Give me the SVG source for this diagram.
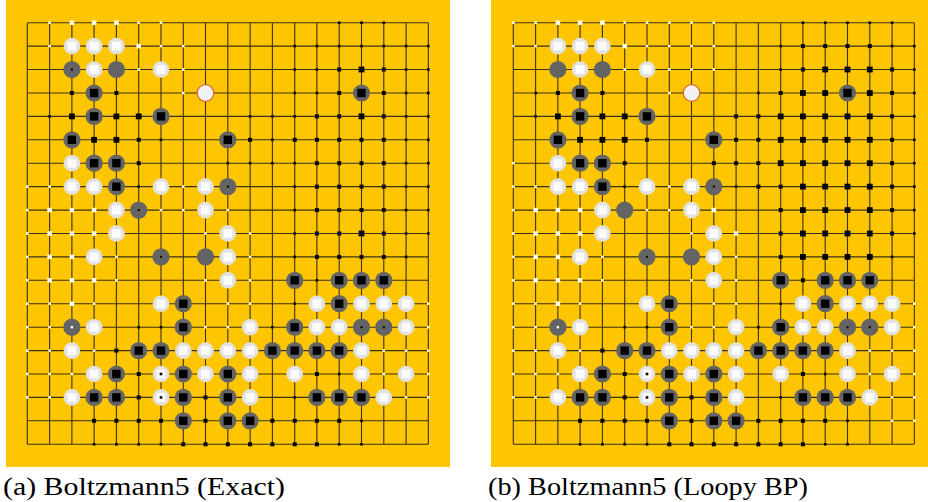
<svg xmlns="http://www.w3.org/2000/svg" width="928" height="502" viewBox="0 0 928 502">
<style>
.bg{fill:#fec600}
.gl{fill:none;stroke:#3a3018;stroke-width:1.1}
.k{fill:#000}
.wq{fill:#fffbe8}
.ws{fill:#e2e2e2}
.wc{fill:#fbfbfb}
.gs{fill:#646464}
</style>
<defs>
<path id="grid" class="gl" d="M0 0V421.6M22.3 0V421.6M44.6 0V421.6M66.8 0V421.6M89.1 0V421.6M111.4 0V421.6M133.7 0V421.6M156 0V421.6M178.2 0V421.6M200.5 0V421.6M222.8 0V421.6M245.1 0V421.6M267.4 0V421.6M289.6 0V421.6M311.9 0V421.6M334.2 0V421.6M356.5 0V421.6M378.8 0V421.6M401 0V421.6M0 0H401M0 23.4H401M0 46.8H401M0 70.3H401M0 93.7H401M0 117.1H401M0 140.5H401M0 163.9H401M0 187.4H401M0 210.8H401M0 234.2H401M0 257.6H401M0 281H401M0 304.5H401M0 327.9H401M0 351.3H401M0 374.7H401M0 398.1H401M0 421.6H401"/>
<rect id="b1" class="k" x="-1.3" y="-1.3" width="2.6" height="2.6"/>
<rect id="b2" class="k" x="-2" y="-2" width="4" height="4"/>
<rect id="b3" class="k" x="-2.9" y="-2.9" width="5.8" height="5.8"/>
<rect id="s1" class="wq" x="-1.3" y="-1.3" width="2.6" height="2.6"/>
<rect id="s2" class="wq" x="-2.3" y="-2.3" width="4.6" height="4.6"/>
<g id="W"><circle class="ws" r="8.3"/><rect class="wc" x="-4.5" y="-4.5" width="9" height="9" rx="1.5"/></g>
<g id="WD"><circle class="ws" r="8.3"/><rect class="wc" x="-4.5" y="-4.5" width="9" height="9" rx="1.5"/><rect class="k" x="-1.3" y="-1.3" width="2.6" height="2.6"/></g>
<g id="R"><circle r="8.3" fill="#f2f2f2" stroke="#d5683a" stroke-width="1.3"/></g>
<circle id="G" class="gs" r="8.6"/>
<g id="GB"><circle class="gs" r="8.6"/><rect class="k" x="-4.2" y="-4.2" width="8.4" height="8.4"/></g>
<g id="GD"><circle class="gs" r="8.6"/><rect class="k" x="-1" y="-1" width="2" height="2"/></g>
<g id="GW"><circle class="gs" r="8.6"/><rect fill="#fff" x="-1.2" y="-1.2" width="2.4" height="2.4"/></g>
</defs>
<rect class="bg" x="6" y="0" width="444" height="467"/>
<rect class="bg" x="491" y="0" width="437" height="467"/>

<g id="board-a" transform="translate(27.3 22.7)">
<use href="#grid"/>
<!-- r0 -->
<use href="#s1" x="22.3" y="0"/><use href="#s2" x="44.6" y="0"/><use href="#s2" x="66.8" y="0"/><use href="#s2" x="89.1" y="0"/><use href="#s1" x="111.4" y="0"/><use href="#s1" x="133.7" y="0"/>
<use href="#b1" x="311.9" y="0"/><use href="#b1" x="334.2" y="0"/><use href="#b1" x="356.5" y="0"/>
<!-- r1 -->
<use href="#s1" x="22.3" y="23.4"/><use href="#W" x="44.6" y="23.4"/><use href="#W" x="66.8" y="23.4"/><use href="#W" x="89.1" y="23.4"/><use href="#s2" x="111.4" y="23.4"/><use href="#s1" x="133.7" y="23.4"/><use href="#s1" x="156" y="23.4"/>
<use href="#b1" x="267.4" y="23.4"/><use href="#b1" x="289.6" y="23.4"/><use href="#b1" x="311.9" y="23.4"/><use href="#b1" x="334.2" y="23.4"/><use href="#b1" x="356.5" y="23.4"/><use href="#b1" x="378.8" y="23.4"/><use href="#b1" x="401" y="23.4"/>
<!-- r2 -->
<use href="#GD" x="44.6" y="46.8"/><use href="#W" x="66.8" y="46.8"/><use href="#G" x="89.1" y="46.8"/><use href="#s1" x="111.4" y="46.8"/><use href="#W" x="133.7" y="46.8"/><use href="#s1" x="156" y="46.8"/>
<use href="#b1" x="267.4" y="46.8"/><use href="#b1" x="289.6" y="46.8"/><use href="#b2" x="311.9" y="46.8"/><use href="#b3" x="334.2" y="46.8"/><use href="#b2" x="356.5" y="46.8"/><use href="#b1" x="378.8" y="46.8"/><use href="#b1" x="401" y="46.8"/>
<!-- r3 -->
<use href="#b2" x="44.6" y="70.3"/><use href="#GB" x="66.8" y="70.3"/><use href="#b2" x="89.1" y="70.3"/><use href="#s1" x="156" y="70.3"/><use href="#R" x="178.2" y="70.3"/>
<use href="#b1" x="267.4" y="70.3"/><use href="#b1" x="289.6" y="70.3"/><use href="#b2" x="311.9" y="70.3"/><use href="#GB" x="334.2" y="70.3"/><use href="#b2" x="356.5" y="70.3"/><use href="#b1" x="378.8" y="70.3"/><use href="#b1" x="401" y="70.3"/>
<!-- r4 -->
<use href="#b1" x="22.3" y="93.7"/><use href="#b3" x="44.6" y="93.7"/><use href="#GB" x="66.8" y="93.7"/><use href="#b3" x="89.1" y="93.7"/><use href="#b3" x="111.4" y="93.7"/><use href="#GB" x="133.7" y="93.7"/>
<use href="#b1" x="222.8" y="93.7"/><use href="#b1" x="245.1" y="93.7"/><use href="#b1" x="267.4" y="93.7"/><use href="#b2" x="289.6" y="93.7"/><use href="#b2" x="311.9" y="93.7"/><use href="#b3" x="334.2" y="93.7"/><use href="#b2" x="356.5" y="93.7"/><use href="#b1" x="378.8" y="93.7"/><use href="#b1" x="401" y="93.7"/>
<!-- r5 -->
<use href="#GB" x="44.6" y="117.1"/><use href="#b3" x="66.8" y="117.1"/><use href="#b3" x="89.1" y="117.1"/><use href="#b2" x="111.4" y="117.1"/><use href="#b1" x="133.7" y="117.1"/><use href="#GB" x="200.5" y="117.1"/>
<use href="#b2" x="222.8" y="117.1"/><use href="#b1" x="245.1" y="117.1"/><use href="#b2" x="267.4" y="117.1"/><use href="#b2" x="289.6" y="117.1"/><use href="#b2" x="311.9" y="117.1"/><use href="#b2" x="334.2" y="117.1"/><use href="#b2" x="356.5" y="117.1"/><use href="#b1" x="378.8" y="117.1"/><use href="#b1" x="401" y="117.1"/>
<!-- r6 -->
<use href="#W" x="44.6" y="140.5"/><use href="#GB" x="66.8" y="140.5"/><use href="#GB" x="89.1" y="140.5"/><use href="#b2" x="111.4" y="140.5"/>
<use href="#b1" x="200.5" y="140.5"/><use href="#b1" x="222.8" y="140.5"/><use href="#b1" x="245.1" y="140.5"/><use href="#b1" x="267.4" y="140.5"/><use href="#b2" x="289.6" y="140.5"/><use href="#b2" x="311.9" y="140.5"/><use href="#b2" x="334.2" y="140.5"/><use href="#b2" x="356.5" y="140.5"/><use href="#b1" x="378.8" y="140.5"/><use href="#b1" x="401" y="140.5"/>
<!-- r7 -->
<use href="#s1" x="0" y="163.9"/><use href="#s1" x="22.3" y="163.9"/><use href="#W" x="44.6" y="163.9"/><use href="#W" x="66.8" y="163.9"/><use href="#GB" x="89.1" y="163.9"/><use href="#b1" x="111.4" y="163.9"/><use href="#W" x="133.7" y="163.9"/><use href="#s1" x="156" y="163.9"/><use href="#W" x="178.2" y="163.9"/><use href="#GD" x="200.5" y="163.9"/>
<use href="#b1" x="267.4" y="163.9"/><use href="#b2" x="289.6" y="163.9"/><use href="#b2" x="311.9" y="163.9"/><use href="#b2" x="334.2" y="163.9"/><use href="#b2" x="356.5" y="163.9"/><use href="#b1" x="378.8" y="163.9"/><use href="#b1" x="401" y="163.9"/>
<!-- r8 -->
<use href="#s1" x="0" y="187.4"/><use href="#s2" x="22.3" y="187.4"/><use href="#s2" x="44.6" y="187.4"/><use href="#s2" x="66.8" y="187.4"/><use href="#W" x="89.1" y="187.4"/><use href="#GD" x="111.4" y="187.4"/><use href="#s1" x="133.7" y="187.4"/><use href="#s1" x="156" y="187.4"/><use href="#W" x="178.2" y="187.4"/><use href="#s1" x="200.5" y="187.4"/>
<use href="#b1" x="267.4" y="187.4"/><use href="#b2" x="289.6" y="187.4"/><use href="#b2" x="311.9" y="187.4"/><use href="#b2" x="334.2" y="187.4"/><use href="#b2" x="356.5" y="187.4"/><use href="#b1" x="378.8" y="187.4"/><use href="#b1" x="401" y="187.4"/>
<!-- r9 -->
<use href="#s1" x="0" y="210.8"/><use href="#s2" x="22.3" y="210.8"/><use href="#s2" x="44.6" y="210.8"/><use href="#s2" x="66.8" y="210.8"/><use href="#W" x="89.1" y="210.8"/><use href="#s1" x="178.2" y="210.8"/><use href="#W" x="200.5" y="210.8"/><use href="#s1" x="222.8" y="210.8"/>
<use href="#b1" x="267.4" y="210.8"/><use href="#b2" x="289.6" y="210.8"/><use href="#b2" x="311.9" y="210.8"/><use href="#b3" x="334.2" y="210.8"/><use href="#b2" x="356.5" y="210.8"/><use href="#b1" x="378.8" y="210.8"/><use href="#b1" x="401" y="210.8"/>
<!-- r10 -->
<use href="#s1" x="0" y="234.2"/><use href="#s2" x="22.3" y="234.2"/><use href="#s2" x="44.6" y="234.2"/><use href="#W" x="66.8" y="234.2"/><use href="#s1" x="89.1" y="234.2"/><use href="#GD" x="133.7" y="234.2"/><use href="#G" x="178.2" y="234.2"/><use href="#W" x="200.5" y="234.2"/><use href="#s1" x="222.8" y="234.2"/>
<use href="#b1" x="267.4" y="234.2"/><use href="#b2" x="289.6" y="234.2"/><use href="#b2" x="311.9" y="234.2"/><use href="#b2" x="334.2" y="234.2"/><use href="#b2" x="356.5" y="234.2"/><use href="#b1" x="378.8" y="234.2"/>
<!-- r11 -->
<use href="#s1" x="0" y="257.6"/><use href="#s2" x="22.3" y="257.6"/><use href="#s2" x="44.6" y="257.6"/><use href="#s2" x="66.8" y="257.6"/><use href="#s1" x="89.1" y="257.6"/><use href="#s1" x="178.2" y="257.6"/><use href="#W" x="200.5" y="257.6"/><use href="#s1" x="222.8" y="257.6"/>
<use href="#GB" x="267.4" y="257.6"/><use href="#b1" x="289.6" y="257.6"/><use href="#GB" x="311.9" y="257.6"/><use href="#GB" x="334.2" y="257.6"/><use href="#GB" x="356.5" y="257.6"/>
<!-- r12 -->
<use href="#s1" x="0" y="281"/><use href="#s1" x="22.3" y="281"/><use href="#s2" x="44.6" y="281"/><use href="#s1" x="66.8" y="281"/><use href="#W" x="133.7" y="281"/><use href="#GB" x="156" y="281"/><use href="#s1" x="200.5" y="281"/><use href="#s1" x="222.8" y="281"/>
<use href="#b1" x="267.4" y="281"/><use href="#W" x="289.6" y="281"/><use href="#GB" x="311.9" y="281"/><use href="#W" x="334.2" y="281"/><use href="#W" x="356.5" y="281"/><use href="#W" x="378.8" y="281"/><use href="#s1" x="401" y="281"/>
<!-- r13 -->
<use href="#s1" x="0" y="304.5"/><use href="#s1" x="22.3" y="304.5"/><use href="#GW" x="44.6" y="304.5"/><use href="#W" x="66.8" y="304.5"/><use href="#b1" x="111.4" y="304.5"/><use href="#b1" x="133.7" y="304.5"/><use href="#GB" x="156" y="304.5"/><use href="#s1" x="178.2" y="304.5"/><use href="#s1" x="200.5" y="304.5"/><use href="#W" x="222.8" y="304.5"/>
<use href="#b1" x="245.1" y="304.5"/><use href="#GB" x="267.4" y="304.5"/><use href="#W" x="289.6" y="304.5"/><use href="#W" x="311.9" y="304.5"/><use href="#GD" x="334.2" y="304.5"/><use href="#GD" x="356.5" y="304.5"/><use href="#W" x="378.8" y="304.5"/><use href="#s1" x="401" y="304.5"/>
<!-- r14 -->
<use href="#s1" x="0" y="327.9"/><use href="#s1" x="22.3" y="327.9"/><use href="#W" x="44.6" y="327.9"/><use href="#s1" x="66.8" y="327.9"/><use href="#b2" x="89.1" y="327.9"/><use href="#GB" x="111.4" y="327.9"/><use href="#GB" x="133.7" y="327.9"/><use href="#W" x="156" y="327.9"/><use href="#W" x="178.2" y="327.9"/><use href="#W" x="200.5" y="327.9"/><use href="#W" x="222.8" y="327.9"/>
<use href="#GB" x="245.1" y="327.9"/><use href="#GB" x="267.4" y="327.9"/><use href="#GB" x="289.6" y="327.9"/><use href="#GB" x="311.9" y="327.9"/><use href="#W" x="334.2" y="327.9"/><use href="#s1" x="356.5" y="327.9"/><use href="#s1" x="378.8" y="327.9"/><use href="#s1" x="401" y="327.9"/>
<!-- r15 -->
<use href="#s1" x="0" y="351.3"/><use href="#s1" x="22.3" y="351.3"/><use href="#s1" x="44.6" y="351.3"/><use href="#W" x="66.8" y="351.3"/><use href="#GB" x="89.1" y="351.3"/><use href="#b2" x="111.4" y="351.3"/><use href="#WD" x="133.7" y="351.3"/><use href="#GB" x="156" y="351.3"/><use href="#W" x="178.2" y="351.3"/><use href="#GB" x="200.5" y="351.3"/><use href="#W" x="222.8" y="351.3"/>
<use href="#W" x="267.4" y="351.3"/><use href="#b2" x="289.6" y="351.3"/><use href="#b1" x="311.9" y="351.3"/><use href="#W" x="334.2" y="351.3"/><use href="#s1" x="356.5" y="351.3"/><use href="#W" x="378.8" y="351.3"/><use href="#s1" x="401" y="351.3"/>
<!-- r16 -->
<use href="#s1" x="0" y="374.7"/><use href="#s1" x="22.3" y="374.7"/><use href="#W" x="44.6" y="374.7"/><use href="#GB" x="66.8" y="374.7"/><use href="#GB" x="89.1" y="374.7"/><use href="#b2" x="111.4" y="374.7"/><use href="#WD" x="133.7" y="374.7"/><use href="#GB" x="156" y="374.7"/><use href="#b2" x="178.2" y="374.7"/><use href="#GB" x="200.5" y="374.7"/><use href="#W" x="222.8" y="374.7"/>
<use href="#b1" x="267.4" y="374.7"/><use href="#GB" x="289.6" y="374.7"/><use href="#GB" x="311.9" y="374.7"/><use href="#GB" x="334.2" y="374.7"/><use href="#W" x="356.5" y="374.7"/><use href="#s1" x="378.8" y="374.7"/><use href="#s1" x="401" y="374.7"/>
<!-- r17 -->
<use href="#b2" x="66.8" y="398.1"/><use href="#b2" x="89.1" y="398.1"/><use href="#b2" x="111.4" y="398.1"/><use href="#b2" x="133.7" y="398.1"/><use href="#GB" x="156" y="398.1"/><use href="#b2" x="178.2" y="398.1"/><use href="#GB" x="200.5" y="398.1"/><use href="#GB" x="222.8" y="398.1"/>
<use href="#b2" x="245.1" y="398.1"/><use href="#b2" x="267.4" y="398.1"/><use href="#b2" x="289.6" y="398.1"/><use href="#b2" x="311.9" y="398.1"/><use href="#b1" x="334.2" y="398.1"/>
<!-- r18 -->
<use href="#b1" x="66.8" y="421.6"/><use href="#b1" x="89.1" y="421.6"/><use href="#b1" x="111.4" y="421.6"/><use href="#b1" x="133.7" y="421.6"/><use href="#b2" x="156" y="421.6"/><use href="#b2" x="178.2" y="421.6"/><use href="#b2" x="200.5" y="421.6"/><use href="#b2" x="222.8" y="421.6"/>
<use href="#b2" x="245.1" y="421.6"/><use href="#b2" x="267.4" y="421.6"/><use href="#b2" x="289.6" y="421.6"/><use href="#b1" x="311.9" y="421.6"/><use href="#b1" x="334.2" y="421.6"/>
</g>

<g id="board-b" transform="translate(513.3 22.7)">
<use href="#grid"/>
<!-- r0 -->
<use href="#s1" x="0" y="0"/><use href="#s1" x="22.3" y="0"/><use href="#s2" x="44.6" y="0"/><use href="#s2" x="66.8" y="0"/><use href="#s2" x="89.1" y="0"/><use href="#s1" x="111.4" y="0"/><use href="#s1" x="133.7" y="0"/><use href="#s1" x="156" y="0"/><use href="#s1" x="178.2" y="0"/><use href="#s1" x="200.5" y="0"/>
<use href="#b1" x="289.6" y="0"/><use href="#b1" x="311.9" y="0"/><use href="#b1" x="334.2" y="0"/><use href="#b1" x="356.5" y="0"/><use href="#b1" x="378.8" y="0"/>
<!-- r1 -->
<use href="#s1" x="0" y="23.4"/><use href="#s1" x="22.3" y="23.4"/><use href="#W" x="44.6" y="23.4"/><use href="#W" x="66.8" y="23.4"/><use href="#W" x="89.1" y="23.4"/><use href="#s2" x="111.4" y="23.4"/><use href="#s1" x="133.7" y="23.4"/><use href="#s1" x="156" y="23.4"/><use href="#s1" x="178.2" y="23.4"/><use href="#s1" x="200.5" y="23.4"/>
<use href="#b1" x="267.4" y="23.4"/><use href="#b2" x="289.6" y="23.4"/><use href="#b2" x="311.9" y="23.4"/><use href="#b2" x="334.2" y="23.4"/><use href="#b2" x="356.5" y="23.4"/><use href="#b1" x="378.8" y="23.4"/><use href="#b1" x="401" y="23.4"/>
<!-- r2 -->
<use href="#G" x="44.6" y="46.8"/><use href="#W" x="66.8" y="46.8"/><use href="#G" x="89.1" y="46.8"/><use href="#s1" x="111.4" y="46.8"/><use href="#W" x="133.7" y="46.8"/><use href="#s1" x="156" y="46.8"/><use href="#s1" x="178.2" y="46.8"/><use href="#s1" x="200.5" y="46.8"/>
<use href="#b1" x="267.4" y="46.8"/><use href="#b2" x="289.6" y="46.8"/><use href="#b3" x="311.9" y="46.8"/><use href="#b3" x="334.2" y="46.8"/><use href="#b3" x="356.5" y="46.8"/><use href="#b2" x="378.8" y="46.8"/><use href="#b1" x="401" y="46.8"/>
<!-- r3 -->
<use href="#b1" x="22.3" y="70.3"/><use href="#b2" x="44.6" y="70.3"/><use href="#GB" x="66.8" y="70.3"/><use href="#b2" x="89.1" y="70.3"/><use href="#s1" x="156" y="70.3"/><use href="#R" x="178.2" y="70.3"/>
<use href="#b1" x="245.1" y="70.3"/><use href="#b2" x="267.4" y="70.3"/><use href="#b3" x="289.6" y="70.3"/><use href="#b3" x="311.9" y="70.3"/><use href="#GB" x="334.2" y="70.3"/><use href="#b3" x="356.5" y="70.3"/><use href="#b2" x="378.8" y="70.3"/><use href="#b1" x="401" y="70.3"/>
<!-- r4 -->
<use href="#b1" x="22.3" y="93.7"/><use href="#b3" x="44.6" y="93.7"/><use href="#GB" x="66.8" y="93.7"/><use href="#b3" x="89.1" y="93.7"/><use href="#b3" x="111.4" y="93.7"/><use href="#GB" x="133.7" y="93.7"/>
<use href="#b2" x="222.8" y="93.7"/><use href="#b2" x="245.1" y="93.7"/><use href="#b3" x="267.4" y="93.7"/><use href="#b3" x="289.6" y="93.7"/><use href="#b3" x="311.9" y="93.7"/><use href="#b3" x="334.2" y="93.7"/><use href="#b3" x="356.5" y="93.7"/><use href="#b2" x="378.8" y="93.7"/><use href="#b1" x="401" y="93.7"/>
<!-- r5 -->
<use href="#GB" x="44.6" y="117.1"/><use href="#b3" x="66.8" y="117.1"/><use href="#b3" x="89.1" y="117.1"/><use href="#b3" x="111.4" y="117.1"/><use href="#b2" x="133.7" y="117.1"/><use href="#GB" x="200.5" y="117.1"/>
<use href="#b2" x="222.8" y="117.1"/><use href="#b2" x="245.1" y="117.1"/><use href="#b3" x="267.4" y="117.1"/><use href="#b3" x="289.6" y="117.1"/><use href="#b3" x="311.9" y="117.1"/><use href="#b3" x="334.2" y="117.1"/><use href="#b3" x="356.5" y="117.1"/><use href="#b2" x="378.8" y="117.1"/><use href="#b1" x="401" y="117.1"/>
<!-- r6 -->
<use href="#s1" x="0" y="140.5"/><use href="#W" x="44.6" y="140.5"/><use href="#GB" x="66.8" y="140.5"/><use href="#GB" x="89.1" y="140.5"/><use href="#b2" x="111.4" y="140.5"/>
<use href="#b2" x="200.5" y="140.5"/><use href="#b2" x="222.8" y="140.5"/><use href="#b2" x="245.1" y="140.5"/><use href="#b3" x="267.4" y="140.5"/><use href="#b3" x="289.6" y="140.5"/><use href="#b3" x="311.9" y="140.5"/><use href="#b3" x="334.2" y="140.5"/><use href="#b3" x="356.5" y="140.5"/><use href="#b2" x="378.8" y="140.5"/><use href="#b1" x="401" y="140.5"/>
<!-- r7 -->
<use href="#s1" x="0" y="163.9"/><use href="#s1" x="22.3" y="163.9"/><use href="#W" x="44.6" y="163.9"/><use href="#W" x="66.8" y="163.9"/><use href="#GB" x="89.1" y="163.9"/><use href="#b1" x="111.4" y="163.9"/><use href="#W" x="133.7" y="163.9"/><use href="#s1" x="156" y="163.9"/><use href="#W" x="178.2" y="163.9"/><use href="#GD" x="200.5" y="163.9"/>
<use href="#b1" x="222.8" y="163.9"/><use href="#b2" x="245.1" y="163.9"/><use href="#b2" x="267.4" y="163.9"/><use href="#b3" x="289.6" y="163.9"/><use href="#b3" x="311.9" y="163.9"/><use href="#b3" x="334.2" y="163.9"/><use href="#b3" x="356.5" y="163.9"/><use href="#b2" x="378.8" y="163.9"/><use href="#b1" x="401" y="163.9"/>
<!-- r8 -->
<use href="#s1" x="0" y="187.4"/><use href="#s2" x="22.3" y="187.4"/><use href="#s2" x="44.6" y="187.4"/><use href="#s2" x="66.8" y="187.4"/><use href="#W" x="89.1" y="187.4"/><use href="#G" x="111.4" y="187.4"/><use href="#s1" x="133.7" y="187.4"/><use href="#s1" x="156" y="187.4"/><use href="#W" x="178.2" y="187.4"/><use href="#s2" x="200.5" y="187.4"/>
<use href="#b2" x="267.4" y="187.4"/><use href="#b3" x="289.6" y="187.4"/><use href="#b3" x="311.9" y="187.4"/><use href="#b3" x="334.2" y="187.4"/><use href="#b3" x="356.5" y="187.4"/><use href="#b2" x="378.8" y="187.4"/><use href="#b1" x="401" y="187.4"/>
<!-- r9 -->
<use href="#s1" x="0" y="210.8"/><use href="#s2" x="22.3" y="210.8"/><use href="#s2" x="44.6" y="210.8"/><use href="#s2" x="66.8" y="210.8"/><use href="#W" x="89.1" y="210.8"/><use href="#s1" x="178.2" y="210.8"/><use href="#W" x="200.5" y="210.8"/><use href="#s2" x="222.8" y="210.8"/>
<use href="#b2" x="267.4" y="210.8"/><use href="#b3" x="289.6" y="210.8"/><use href="#b3" x="311.9" y="210.8"/><use href="#b3" x="334.2" y="210.8"/><use href="#b3" x="356.5" y="210.8"/><use href="#b2" x="378.8" y="210.8"/><use href="#b1" x="401" y="210.8"/>
<!-- r10 -->
<use href="#s1" x="0" y="234.2"/><use href="#s2" x="22.3" y="234.2"/><use href="#s2" x="44.6" y="234.2"/><use href="#W" x="66.8" y="234.2"/><use href="#s1" x="89.1" y="234.2"/><use href="#GD" x="133.7" y="234.2"/><use href="#G" x="178.2" y="234.2"/><use href="#W" x="200.5" y="234.2"/><use href="#s1" x="222.8" y="234.2"/>
<use href="#b2" x="267.4" y="234.2"/><use href="#b3" x="289.6" y="234.2"/><use href="#b3" x="311.9" y="234.2"/><use href="#b3" x="334.2" y="234.2"/><use href="#b3" x="356.5" y="234.2"/><use href="#b1" x="378.8" y="234.2"/>
<!-- r11 -->
<use href="#s1" x="0" y="257.6"/><use href="#s2" x="22.3" y="257.6"/><use href="#s2" x="44.6" y="257.6"/><use href="#s2" x="66.8" y="257.6"/><use href="#s1" x="89.1" y="257.6"/><use href="#s1" x="178.2" y="257.6"/><use href="#W" x="200.5" y="257.6"/><use href="#s1" x="222.8" y="257.6"/>
<use href="#GB" x="267.4" y="257.6"/><use href="#b2" x="289.6" y="257.6"/><use href="#GB" x="311.9" y="257.6"/><use href="#GB" x="334.2" y="257.6"/><use href="#GB" x="356.5" y="257.6"/>
<!-- r12 -->
<use href="#s1" x="0" y="281"/><use href="#s1" x="22.3" y="281"/><use href="#s2" x="44.6" y="281"/><use href="#s1" x="66.8" y="281"/><use href="#W" x="133.7" y="281"/><use href="#GB" x="156" y="281"/><use href="#s1" x="200.5" y="281"/><use href="#s1" x="222.8" y="281"/>
<use href="#b1" x="267.4" y="281"/><use href="#W" x="289.6" y="281"/><use href="#GB" x="311.9" y="281"/><use href="#W" x="334.2" y="281"/><use href="#W" x="356.5" y="281"/><use href="#W" x="378.8" y="281"/><use href="#s1" x="401" y="281"/>
<!-- r13 -->
<use href="#s1" x="0" y="304.5"/><use href="#s1" x="22.3" y="304.5"/><use href="#GW" x="44.6" y="304.5"/><use href="#W" x="66.8" y="304.5"/><use href="#b1" x="111.4" y="304.5"/><use href="#b1" x="133.7" y="304.5"/><use href="#GB" x="156" y="304.5"/><use href="#s1" x="178.2" y="304.5"/><use href="#s1" x="200.5" y="304.5"/><use href="#W" x="222.8" y="304.5"/>
<use href="#b1" x="245.1" y="304.5"/><use href="#GB" x="267.4" y="304.5"/><use href="#W" x="289.6" y="304.5"/><use href="#W" x="311.9" y="304.5"/><use href="#GD" x="334.2" y="304.5"/><use href="#GD" x="356.5" y="304.5"/><use href="#W" x="378.8" y="304.5"/><use href="#s1" x="401" y="304.5"/>
<!-- r14 -->
<use href="#s1" x="0" y="327.9"/><use href="#s1" x="22.3" y="327.9"/><use href="#W" x="44.6" y="327.9"/><use href="#s1" x="66.8" y="327.9"/><use href="#b2" x="89.1" y="327.9"/><use href="#GB" x="111.4" y="327.9"/><use href="#GB" x="133.7" y="327.9"/><use href="#W" x="156" y="327.9"/><use href="#W" x="178.2" y="327.9"/><use href="#W" x="200.5" y="327.9"/><use href="#W" x="222.8" y="327.9"/>
<use href="#GB" x="245.1" y="327.9"/><use href="#GB" x="267.4" y="327.9"/><use href="#GB" x="289.6" y="327.9"/><use href="#GB" x="311.9" y="327.9"/><use href="#W" x="334.2" y="327.9"/><use href="#s1" x="356.5" y="327.9"/><use href="#s1" x="378.8" y="327.9"/><use href="#s1" x="401" y="327.9"/>
<!-- r15 -->
<use href="#s1" x="0" y="351.3"/><use href="#s1" x="22.3" y="351.3"/><use href="#s1" x="44.6" y="351.3"/><use href="#W" x="66.8" y="351.3"/><use href="#GB" x="89.1" y="351.3"/><use href="#b2" x="111.4" y="351.3"/><use href="#WD" x="133.7" y="351.3"/><use href="#GB" x="156" y="351.3"/><use href="#W" x="178.2" y="351.3"/><use href="#GB" x="200.5" y="351.3"/><use href="#W" x="222.8" y="351.3"/>
<use href="#W" x="267.4" y="351.3"/><use href="#b2" x="289.6" y="351.3"/><use href="#b1" x="311.9" y="351.3"/><use href="#W" x="334.2" y="351.3"/><use href="#s1" x="356.5" y="351.3"/><use href="#W" x="378.8" y="351.3"/><use href="#s1" x="401" y="351.3"/>
<!-- r16 -->
<use href="#s1" x="0" y="374.7"/><use href="#s1" x="22.3" y="374.7"/><use href="#W" x="44.6" y="374.7"/><use href="#GB" x="66.8" y="374.7"/><use href="#GB" x="89.1" y="374.7"/><use href="#b2" x="111.4" y="374.7"/><use href="#WD" x="133.7" y="374.7"/><use href="#GB" x="156" y="374.7"/><use href="#b2" x="178.2" y="374.7"/><use href="#GB" x="200.5" y="374.7"/><use href="#W" x="222.8" y="374.7"/>
<use href="#b1" x="267.4" y="374.7"/><use href="#GB" x="289.6" y="374.7"/><use href="#GB" x="311.9" y="374.7"/><use href="#GB" x="334.2" y="374.7"/><use href="#W" x="356.5" y="374.7"/><use href="#s1" x="378.8" y="374.7"/><use href="#s1" x="401" y="374.7"/>
<!-- r17 -->
<use href="#b2" x="66.8" y="398.1"/><use href="#b2" x="89.1" y="398.1"/><use href="#b2" x="111.4" y="398.1"/><use href="#b2" x="133.7" y="398.1"/><use href="#GB" x="156" y="398.1"/><use href="#b2" x="178.2" y="398.1"/><use href="#GB" x="200.5" y="398.1"/><use href="#GB" x="222.8" y="398.1"/>
<use href="#b2" x="245.1" y="398.1"/><use href="#b2" x="267.4" y="398.1"/><use href="#b2" x="289.6" y="398.1"/><use href="#b2" x="311.9" y="398.1"/><use href="#b1" x="334.2" y="398.1"/><use href="#s1" x="378.8" y="398.1"/><use href="#s1" x="401" y="398.1"/>
<!-- r18 -->
<use href="#b1" x="66.8" y="421.6"/><use href="#b1" x="89.1" y="421.6"/><use href="#b1" x="111.4" y="421.6"/><use href="#b1" x="133.7" y="421.6"/><use href="#b2" x="156" y="421.6"/><use href="#b2" x="178.2" y="421.6"/><use href="#b2" x="200.5" y="421.6"/><use href="#b2" x="222.8" y="421.6"/>
<use href="#b2" x="245.1" y="421.6"/><use href="#b2" x="267.4" y="421.6"/><use href="#b2" x="289.6" y="421.6"/><use href="#b1" x="311.9" y="421.6"/><use href="#b1" x="334.2" y="421.6"/>
</g>

<g id="captions" font-family="'Liberation Serif', 'DejaVu Serif', serif" font-size="25" fill="#000">
<text x="3" y="495" textLength="282" lengthAdjust="spacingAndGlyphs">(a) Boltzmann5 (Exact)</text>
<text x="488" y="495" textLength="320" lengthAdjust="spacingAndGlyphs">(b) Boltzmann5 (Loopy BP)</text>
</g>
</svg>
